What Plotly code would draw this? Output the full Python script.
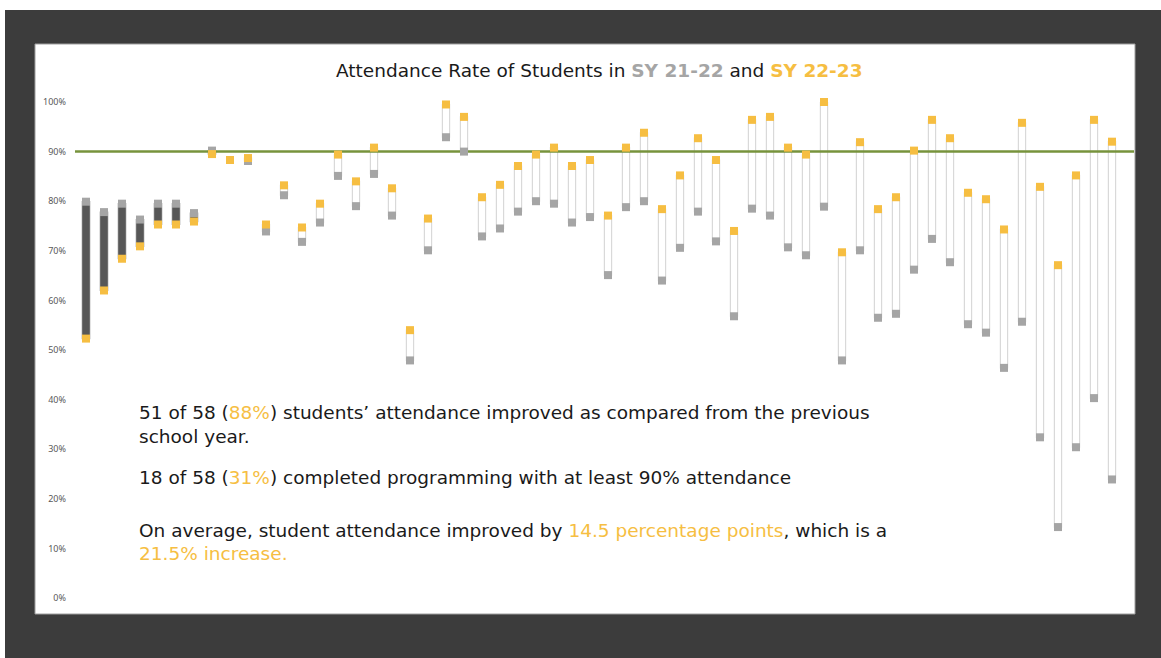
import plotly.graph_objects as go

# ---- data ----
students = list(range(1, 59))
sy_21_22 = [79.9, 77.8, 79.5, 76.3, 79.5, 79.5, 77.6, 90.2, 88.3, 88.1,
            73.9, 81.2, 71.8, 75.7, 85.1, 79.0, 85.5, 77.1, 47.9, 70.1,
            92.9, 90.0, 72.9, 74.5, 77.9, 80.0, 79.5, 75.7, 76.8, 65.1,
            78.8, 80.0, 64.0, 70.6, 77.9, 71.9, 56.8, 78.5, 77.1, 70.7,
            69.1, 78.9, 47.9, 70.1, 56.5, 57.3, 66.2, 72.4, 67.7, 55.2,
            53.5, 46.4, 55.7, 32.4, 14.3, 30.4, 40.3, 23.9]
sy_22_23 = [52.3, 62.0, 68.4, 70.9, 75.3, 75.3, 75.9, 89.5, 88.3, 88.7,
            75.3, 83.2, 74.7, 79.5, 89.4, 84.0, 90.8, 82.6, 54.0, 76.5,
            99.5, 97.0, 80.8, 83.3, 87.1, 89.4, 90.8, 87.1, 88.3, 77.1,
            90.8, 93.8, 78.4, 85.2, 92.7, 88.3, 74.0, 96.4, 97.0, 90.8,
            89.4, 100.0, 69.7, 91.9, 78.4, 80.8, 90.2, 96.4, 92.7, 81.7,
            80.4, 74.3, 95.8, 82.9, 67.1, 85.2, 96.4, 92.0]
target = 90
y_ticks = list(range(0, 101, 10))

GRAY = "#A5A5A5"
ORANGE = "#F6BE42"
DARK = "#575757"
FRAME = "#3C3C3C"
GREEN = "#77933C"

W, H = 1161, 658
ML, MR, MT, MB = 75, 27, 102, 60
PW, PH = W - ML - MR, H - MT - MB
step = 18.0
x0 = 1 - (86 - ML) / step
x1 = x0 + PW / step


def px(xp):
    return (xp - ML) / PW


def py(yp):
    return (H - MB - yp) / PH


bases = [min(a, b) for a, b in zip(sy_21_22, sy_22_23)]
heights = [abs(b - a) for a, b in zip(sy_21_22, sy_22_23)]
fills = [DARK if b < a else "white" for a, b in zip(sy_21_22, sy_22_23)]
lines = ["#6E6E6E" if b < a else "#D9D9D9" for a, b in zip(sy_21_22, sy_22_23)]

fig = go.Figure()
fig.add_trace(go.Bar(x=students, y=heights, base=bases, width=0.4,
                     marker=dict(color=fills, line=dict(color=lines, width=1.2)),
                     hoverinfo="skip", showlegend=False))
fig.add_trace(go.Scatter(x=[x0, x1], y=[target, target], mode="lines",
                         line=dict(color=GREEN, width=2.5),
                         hoverinfo="skip", showlegend=False, cliponaxis=False))
fig.add_trace(go.Scatter(x=students, y=sy_21_22, mode="markers", name="SY 21-22",
                         marker=dict(symbol="square", size=8, color=GRAY),
                         showlegend=False, cliponaxis=False))
fig.add_trace(go.Scatter(x=students, y=sy_22_23, mode="markers", name="SY 22-23",
                         marker=dict(symbol="square", size=8, color=ORANGE),
                         showlegend=False, cliponaxis=False))

shapes = [
    dict(type="rect", xref="paper", yref="paper", x0=px(5), x1=px(1175),
         y0=py(10), y1=py(680), fillcolor=FRAME, line=dict(width=0), layer="below"),
    dict(type="rect", xref="paper", yref="paper", x0=px(35), x1=px(1135),
         y0=py(44), y1=py(614), fillcolor="white",
         line=dict(color="#9E9E9E", width=1), layer="below"),
]

FONT = "DejaVu Sans"
TXT = "#1A1A1A"
TS = 18.5
annotations = [
    dict(text=f"Attendance Rate of Students in <b><span style='color:{GRAY}'>SY 21-22</span></b> and "
              f"<b><span style='color:{ORANGE}'>SY 22-23</span></b>",
         x=px(599), y=py(70), xref="paper", yref="paper", showarrow=False,
         xanchor="center", yanchor="middle", font=dict(family=FONT, size=18.5, color=TXT)),
    dict(text=f"51 of 58 (<span style='color:{ORANGE}'>88%</span>) students’ attendance improved as compared from the previous",
         x=px(137), y=py(412), xref="paper", yref="paper", showarrow=False,
         xanchor="left", yanchor="middle", font=dict(family=FONT, size=TS, color=TXT)),
    dict(text="school year.",
         x=px(137), y=py(436), xref="paper", yref="paper", showarrow=False,
         xanchor="left", yanchor="middle", font=dict(family=FONT, size=TS, color=TXT)),
    dict(text=f"18 of 58 (<span style='color:{ORANGE}'>31%</span>) completed programming with at least 90% attendance",
         x=px(137), y=py(477), xref="paper", yref="paper", showarrow=False,
         xanchor="left", yanchor="middle", font=dict(family=FONT, size=TS, color=TXT)),
    dict(text=f"On average, student attendance improved by <span style='color:{ORANGE}'>14.5 percentage points</span>, which is a",
         x=px(137), y=py(530), xref="paper", yref="paper", showarrow=False,
         xanchor="left", yanchor="middle", font=dict(family=FONT, size=TS, color=TXT)),
    dict(text=f"<span style='color:{ORANGE}'>21.5% increase.</span>",
         x=px(137), y=py(553), xref="paper", yref="paper", showarrow=False,
         xanchor="left", yanchor="middle", font=dict(family=FONT, size=TS, color=TXT)),
]

fig.update_layout(
    width=W, height=H,
    margin=dict(l=ML, r=MR, t=MT, b=MB, pad=0),
    paper_bgcolor="white", plot_bgcolor="rgba(0,0,0,0)",
    barmode="overlay", showlegend=False,
    shapes=shapes, annotations=annotations,
    xaxis=dict(range=[x0, x1], showticklabels=False, showgrid=False,
               zeroline=False, showline=False, ticks="", fixedrange=True),
    yaxis=dict(range=[0, 100], tickvals=y_ticks, ticktext=[f"{v}%" for v in y_ticks],
               showgrid=False, zeroline=False, showline=False, ticks="",
               ticklabelstandoff=8,
               tickfont=dict(family="Noto Sans", size=9, color="#595959"), fixedrange=True),
    font=dict(family=FONT),
)

fig.write_html("out.html")
